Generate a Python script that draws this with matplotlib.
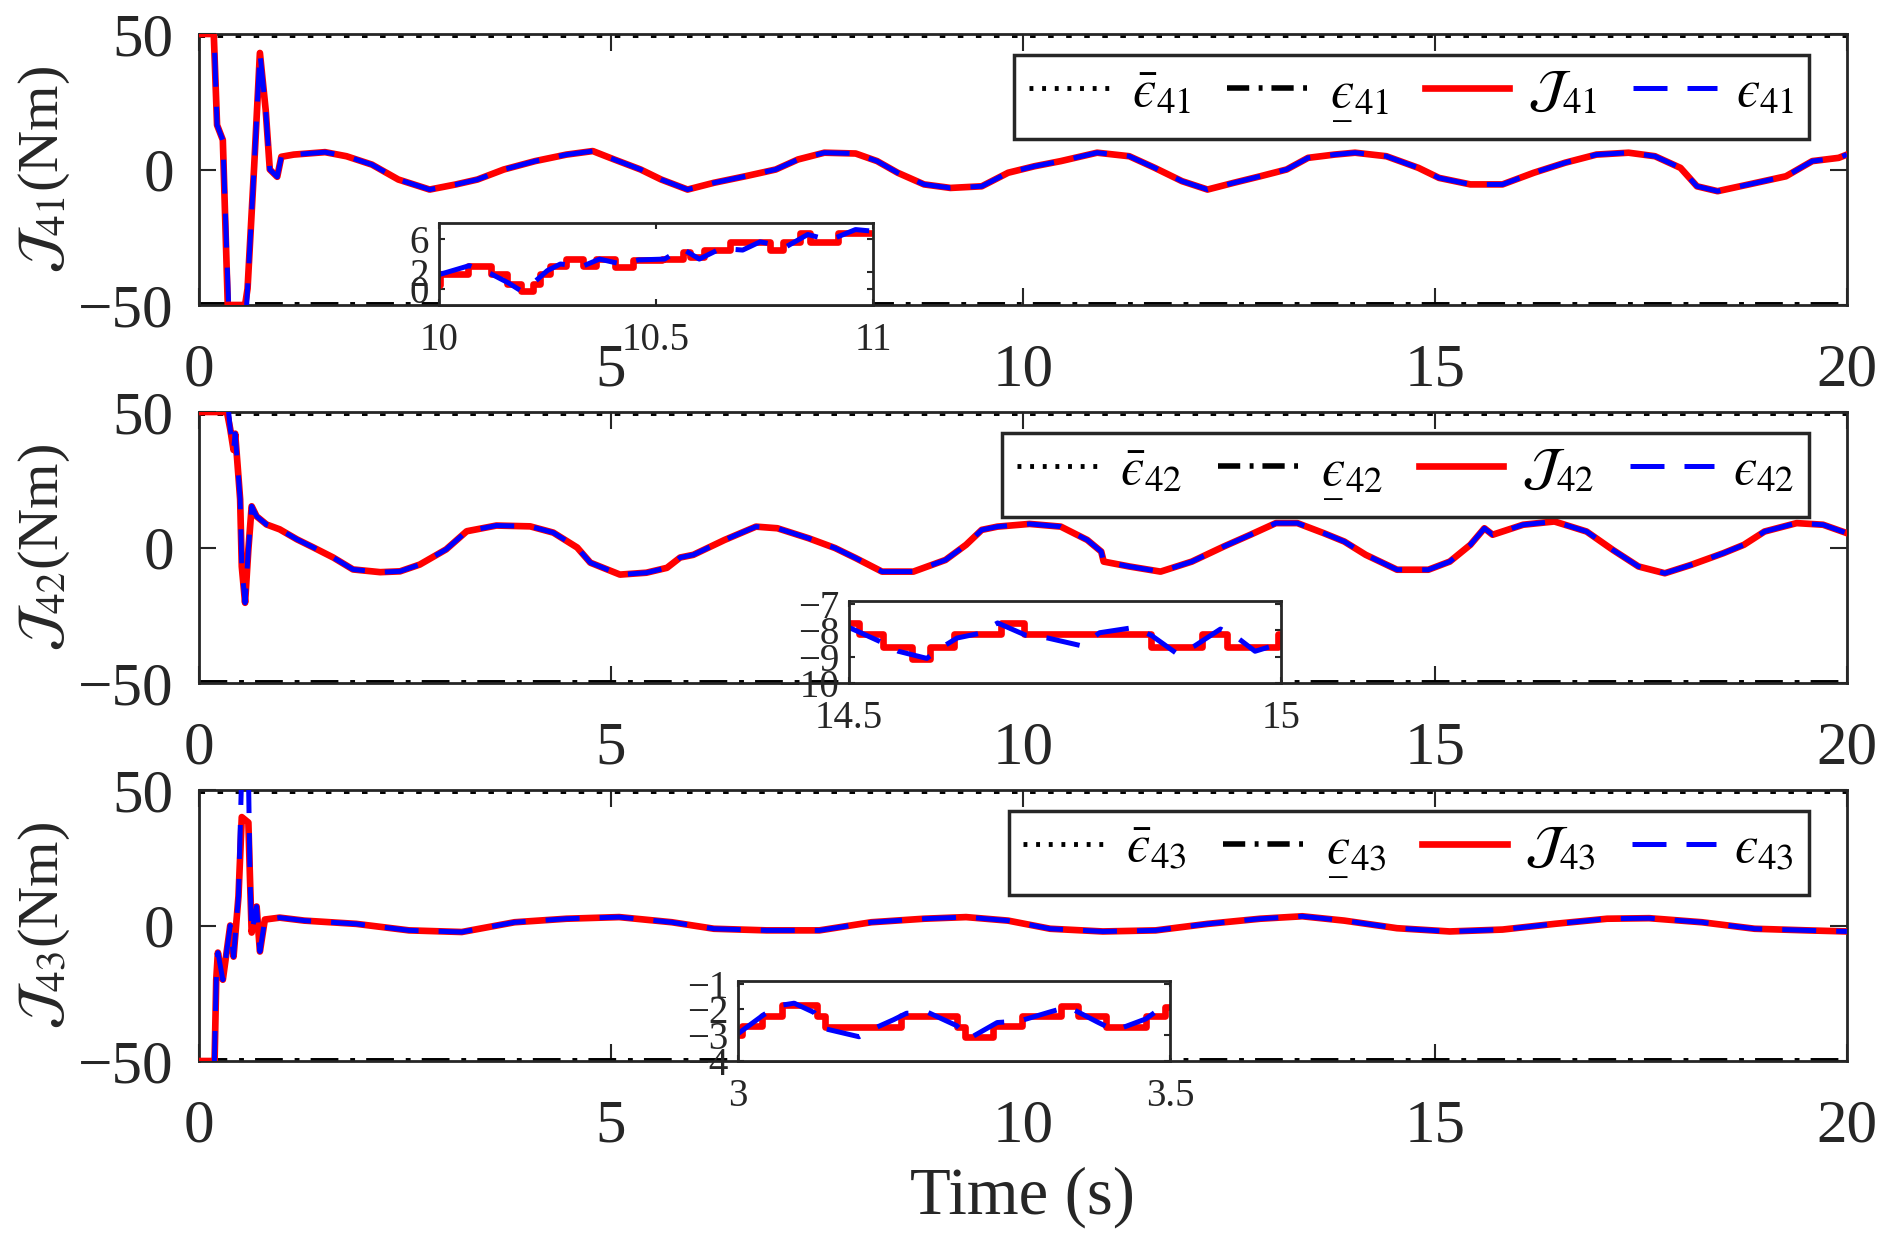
import matplotlib
matplotlib.use('Agg')
import matplotlib.pyplot as plt
from matplotlib.mathtext import MathTextParser

plt.rcParams['font.family'] = ['Liberation Serif', 'DejaVu Serif']
plt.rcParams['mathtext.fontset'] = 'stix'
plt.rcParams['axes.unicode_minus'] = True

# ---------------- data ----------------
t_bound = [0, 20]
upper = [50, 50]
lower = [-50, -50]

t41 = [0, 0.18, 0.22, 0.29, 0.35, 0.56, 0.59, 0.67, 0.74, 0.81, 0.86, 0.95, 1.0, 1.15, 1.53,
       1.79, 2.1, 2.42, 2.8, 3.12, 3.38, 3.7, 4.08, 4.46, 4.78, 5.04, 5.36, 5.61, 5.93, 6.25,
       6.63, 7.0, 7.27, 7.59, 7.97, 8.23, 8.48, 8.8, 9.12, 9.5, 9.82, 10.14, 10.46, 10.9, 11.29,
       11.6, 11.93, 12.24, 12.56, 12.88, 13.2, 13.46, 13.78, 14.03, 14.41, 14.8, 15.05, 15.43,
       15.82, 16.2, 16.58, 16.96, 17.35, 17.67, 17.98, 18.18, 18.43, 18.81, 19.26, 19.58, 19.9, 20.0]
J41 = [50, 50, 16.4, 10.9, -50, -50, -44, 1, 43, 22, 0, -2.7, 4.7, 5.5, 6.4,
       4.9, 1.8, -3.7, -7.4, -5.5, -3.7, 0, 3.1, 5.5, 6.8, 3.7, 0, -3.7, -7.4, -4.9,
       -2.5, 0, 3.7, 6.2, 5.9, 3.1, -1.2, -5.5, -6.8, -6.2, -1.2, 1.2, 3.1, 6.2, 4.9,
       0.6, -4.3, -7.4, -4.9, -2.5, 0, 4.3, 5.5, 6.2, 4.9, 0.6, -3.1, -5.5,
       -5.5, -1.2, 2.5, 5.5, 6.2, 4.9, 0.6, -6.2, -8.0, -5.5, -2.5, 3.1, 4.3, 5.5]
t41_head = [0, 0.17, 0.22, 0.29, 0.36, 0.45, 0.57, 0.59, 0.67, 0.74, 0.81, 0.86, 0.95, 1.0]
e41_head = [75, 62, 16.4, 10.9, -50, -75, -55, -44, 1, 43, 22, 0, -2.7, 4.7]

t42 = [0, 0.34, 0.38, 0.42, 0.44, 0.47, 0.5, 0.52, 0.56, 0.6, 0.64, 0.7, 0.82, 0.98, 1.19,
       1.39, 1.63, 1.87, 2.2, 2.44, 2.68, 3.0, 3.25, 3.61, 4.02, 4.3, 4.59, 4.75, 5.11, 5.43,
       5.68, 5.84, 6.0, 6.38, 6.76, 7.02, 7.4, 7.72, 7.97, 8.29, 8.67, 9.06, 9.31, 9.5, 9.69,
       10.08, 10.46, 10.78, 10.95, 10.98, 11.29, 11.67, 12.05, 12.44, 12.76, 13.07, 13.33,
       13.65, 13.9, 14.16, 14.54, 14.92, 15.18, 15.43, 15.6, 15.7, 16.07, 16.45, 16.84, 17.16,
       17.47, 17.79, 18.11, 18.5, 18.75, 19.0, 19.39, 19.71, 20.0]
J42 = [50, 50, 43.7, 36, 42, 30, 17.8, -7, -20.4, -0.7, 15.2, 11.5, 8.5, 6.7, 3,
       0, -3.7, -8.1, -9.1, -8.8, -6.3, -0.7, 6, 8.1, 7.8, 5.5, 0, -5.6, -10, -9.3,
       -7.5, -3.7, -2.7, 2.8, 7.7, 7.1, 3.4, -0.2, -3.9, -8.9, -8.9, -4.6, 1, 6.5, 7.7,
       8.7, 7.7, 2.8, -1.5, -5.2, -7.0, -8.9, -5.2, 0.4, 4.7, 9.0, 9.0,
       5.3, 2.2, -2.7, -8.2, -8.2, -5.2, 1, 7.1, 4.7, 8.4, 9.6, 5.9, -0.9,
       -7.0, -9.5, -6.4, -2.1, 1, 5.9, 9.0, 8.4, 5.3]
t42_head = [0, 0.33, 0.38]
e42_head = [70, 60, 43.7]

t43 = [0, 0.19, 0.21, 0.23, 0.29, 0.38, 0.42, 0.48, 0.52, 0.6, 0.62, 0.64, 0.7, 0.74, 0.8,
       0.98, 1.28, 1.91, 2.55, 3.19, 3.83, 4.46, 5.1, 5.74, 6.25, 6.89, 7.53, 8.16, 8.8,
       9.31, 9.82, 10.33, 10.97, 11.61, 12.24, 12.88, 13.39, 13.9, 14.54, 15.18, 15.82,
       16.45, 17.09, 17.6, 18.24, 18.88, 19.52, 20.0]
J43 = [-50, -50, -20, -10, -20, 0, -11.5, 10.8, 40, 38, 17, -2.6, 7, -9.6, 2.2,
       2.9, 1.8, 0.6, -1.8, -2.4, 1.2, 2.5, 3.1, 1.2, -1.2, -1.8, -1.8, 1.2, 2.5,
       3.1, 1.8, -1.2, -2.2, -1.8, 0.6, 2.5, 3.4, 1.8, -1.0, -2.2, -1.5,
       0.6, 2.5, 2.7, 1.2, -1.2, -1.8, -2.2]
t43_head = [0, 0.18, 0.21, 0.23, 0.29, 0.38, 0.42, 0.48, 0.52, 0.6, 0.62]
e43_head = [-70, -60, -20, -10, -20, 0, -11.5, 10.8, 58, 58, 17]

# inset data
ins1_t = [10.0, 10.002, 10.068, 10.121, 10.156, 10.19, 10.217, 10.233, 10.256, 10.294, 10.332,
          10.363, 10.405, 10.447, 10.513, 10.563, 10.578, 10.612, 10.67, 10.762, 10.793,
          10.831, 10.854, 10.919, 11.0]
ins1_J = [0.5, 1.75, 2.8, 1.75, 0.6, -0.3, 0.6, 1.75, 2.8, 3.6, 2.7,
          3.6, 2.6, 3.5, 3.6, 4.5, 3.8, 4.7, 5.7, 4.7, 5.7,
          6.75, 5.7, 6.75, 6.75]
ins1_et = [10.0, 10.07, 10.12, 10.16, 10.19, 10.22, 10.25, 10.28, 10.33, 10.37, 10.42, 10.46,
           10.52, 10.56, 10.6, 10.65, 10.7, 10.74, 10.8, 10.85, 10.9, 10.96, 11.0]
ins1_e = [1.7, 2.8, 1.8, 0.7, -0.3, 0.8, 2.2, 3.0, 2.7, 3.6, 3.0, 3.5,
          3.6, 4.9, 3.6, 4.9, 4.7, 5.7, 5.1, 6.6, 5.9, 7.2, 7.0]

ins2_t = [14.5, 14.511, 14.539, 14.573, 14.594, 14.622, 14.676, 14.702, 14.85, 14.909,
          14.937, 14.997, 15.0]
ins2_J = [-7.73, -8.13, -8.63, -9.1, -8.63, -8.16, -7.73, -8.16, -8.63, -8.13,
          -8.63, -8.13, -8.13]
ins2_et = [14.5, 14.537, 14.557, 14.59, 14.605, 14.625, 14.65, 14.672, 14.705, 14.73, 14.77,
           14.79, 14.83, 14.85, 14.88, 14.9, 14.93, 14.95, 14.97, 15.0]
ins2_e = [-7.9, -8.45, -8.8, -9.07, -8.7, -8.3, -8.13, -7.73, -8.2, -8.3, -8.6,
          -8.1, -7.9, -8.2, -8.9, -8.6, -7.96, -8.3, -8.8, -8.5]

ins3_t = [3.0, 3.004, 3.028, 3.051, 3.091, 3.101, 3.189, 3.253, 3.263, 3.295, 3.329, 3.374,
          3.394, 3.426, 3.472, 3.494, 3.5]
ins3_J = [-3.0, -2.63, -2.27, -1.84, -2.27, -2.7, -2.27, -2.7, -3.06, -2.66, -2.24, -1.88,
          -2.27, -2.7, -2.27, -1.9, -1.9]
ins3_et = [3.0, 3.03, 3.05, 3.065, 3.088, 3.102, 3.14, 3.16, 3.18, 3.195, 3.22, 3.253, 3.268,
           3.3, 3.326, 3.362, 3.382, 3.416, 3.436, 3.472, 3.494, 3.5]
ins3_e = [-2.94, -2.2, -1.84, -1.76, -2.12, -2.76, -3.06, -2.7, -2.4, -2.15, -2.12, -2.63, -3.12,
          -2.51, -2.45, -2.09, -1.9, -2.49, -2.82, -2.37, -1.84, -1.8]

xticks = [0, 5, 10, 15, 20]
yticks = [-50, 0, 50]
indices = ['41', '42', '43']

# ---------------- style ----------------
AX_C = '#262626'
RED = '#ff0000'
BLUE = '#0000ff'
LW_RED = 4.8
LW_BLUE = 3.6
BLUE_DASH = (0, (6.8, 4.0))
DOT = (0, (0.8, 1.8))
DASHDOT = (0, (4.0, 1.7, 0.7, 1.6))
EPS = '\u03f5'   # lunate epsilon


def parses(s):
    try:
        MathTextParser('agg').parse(s, dpi=100)
        return True
    except Exception:
        return False


E = EPS if parses('$' + EPS + '$') else r'\epsilon'
CANDIDATES = [r'$\underline{' + E + r'}_{%s}$',
              r'$\underset{\_}{' + E + r'}_{%s}$',
              r'$\underset{-}{' + E + r'}_{%s}$',
              '$' + E + r'_{%s}$']
LOWER_FMT = next(c for c in CANDIDATES if parses(c % '41'))


def lower_label(idx):
    return LOWER_FMT % idx


fig = plt.figure(figsize=(18.91, 12.5), dpi=100)
main_pos = [[0.1052, 0.756, 0.8715, 0.2168],
            [0.1052, 0.4536, 0.8715, 0.2168],
            [0.1052, 0.1512, 0.8715, 0.2168]]
inset_pos = [[0.2321, 0.756, 0.2295, 0.0656],
             [0.4490, 0.4536, 0.2284, 0.0656],
             [0.3903, 0.1512, 0.2284, 0.0640]]
inset_xlim = [(10, 11), (14.5, 15), (3, 3.5)]
inset_ylim = [(-2, 8), (-10.0, -6.9), (-4.0, -0.9)]
inset_xticks = [[10, 10.5, 11], [14.5, 15], [3, 3.5]]
inset_xticklabels = [['10', '10.5', '11'], ['14.5', '15'], ['3', '3.5']]
inset_yticks = [[0, 2, 6], [-10, -9, -8, -7], [-4, -3, -2, -1]]

series = [(t41, J41, t41_head, e41_head),
          (t42, J42, t42_head, e42_head),
          (t43, J43, t43_head, e43_head)]
insets = [(ins1_t, ins1_J, ins1_et, ins1_e),
          (ins2_t, ins2_J, ins2_et, ins2_e),
          (ins3_t, ins3_J, ins3_et, ins3_e)]


def style_axes(ax, lw=2.0):
    for s in ax.spines.values():
        s.set_linewidth(lw)
        s.set_color(AX_C)


for k in range(3):
    ax = fig.add_axes(main_pos[k])
    t, J, th, eh = series[k]
    t_e = th + [tt for tt in t if tt > th[-1]]
    e = eh + [v for tt, v in zip(t, J) if tt > th[-1]]
    idx = indices[k]
    l1, = ax.plot(t_bound, upper, color='k', ls=DOT, lw=5.0, zorder=2)
    l2, = ax.plot(t_bound, lower, color='k', ls=DASHDOT, lw=5.0, zorder=2)
    l3, = ax.plot(t, J, color=RED, lw=LW_RED, zorder=3)
    l4, = ax.plot(t_e, e, color=BLUE, lw=LW_BLUE, ls=BLUE_DASH, zorder=4)
    ax.set_xlim(0, 20)
    ax.set_ylim(-50, 50)
    ax.set_xticks(xticks)
    ax.set_yticks(yticks)
    ax.tick_params(direction='in', length=12, width=1.5, top=True, right=True,
                   labelsize=44, colors=AX_C)
    ax.tick_params(axis='x', pad=27)
    ax.tick_params(axis='y', pad=18)
    style_axes(ax)
    ax.set_ylabel(r'$\mathcal{J}_{%s}$(Nm)' % idx, fontsize=42, color=AX_C)
    ax.yaxis.set_label_coords(-0.077, 0.5)
    labels = [r'$\bar{' + E + r'}_{%s}$' % idx, lower_label(idx),
              r'$\mathcal{J}_{%s}$' % idx, '$' + E + r'_{%s}$' % idx]
    leg = ax.legend([l1, l2, l3, l4], labels, ncol=4, loc='upper right',
                    bbox_to_anchor=(0.977, 0.9225), borderaxespad=0, fontsize=38,
                    handlelength=1.6, handletextpad=0.35, columnspacing=0.68,
                    borderpad=0.28, fancybox=False, framealpha=1, edgecolor=AX_C)
    leg.get_frame().set_linewidth(2.5)
    leg.legend_handles[0].set_linewidth(3.5)
    leg.legend_handles[1].set_linewidth(4.0)
    if k == 2:
        ax.set_xlabel('Time (s)', fontsize=48, color=AX_C)
        ax.xaxis.set_label_coords(0.5, -0.39)

    # inset
    ti, Ji, tei, ei = insets[k]
    axi = fig.add_axes(inset_pos[k])
    axi.set_facecolor('white')
    axi.plot(ti, Ji, color=RED, lw=LW_RED, drawstyle='steps-post')
    axi.plot(tei, ei, color=BLUE, lw=LW_BLUE, ls=BLUE_DASH)
    axi.set_xlim(*inset_xlim[k])
    axi.set_ylim(*inset_ylim[k])
    axi.set_xticks(inset_xticks[k])
    axi.set_xticklabels(inset_xticklabels[k])
    axi.set_yticks(inset_yticks[k])
    axi.tick_params(direction='in', length=4, width=1.5, top=True, right=True,
                    labelsize=28, colors=AX_C)
    axi.tick_params(axis='x', pad=12)
    axi.tick_params(axis='y', pad=7)
    style_axes(axi)

fig.savefig('out.png', dpi=100)
